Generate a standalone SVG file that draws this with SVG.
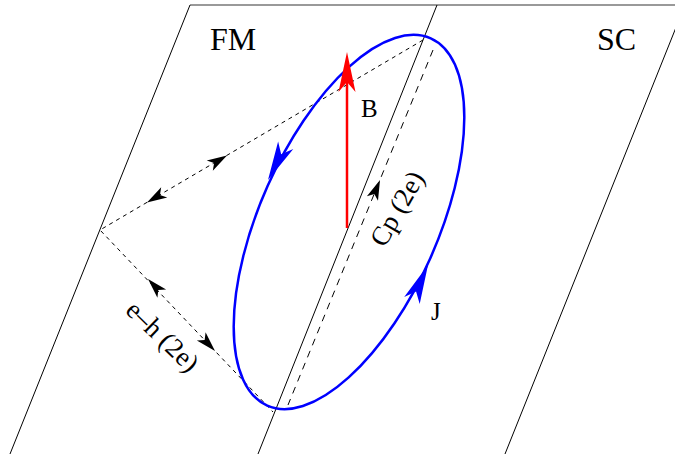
<svg xmlns="http://www.w3.org/2000/svg" xmlns:xlink="http://www.w3.org/1999/xlink" width="675" height="454" viewBox="0 0 675 454">
<style>
.edge{stroke:#000;stroke-width:1;fill:none}
.top{stroke:#777;stroke-width:1.5;fill:none}
.dash{stroke:#000;stroke-width:1;fill:none;stroke-dasharray:4 4}
.dashL{stroke:#000;stroke-width:1;fill:none;stroke-dasharray:7 6}
.big{font-family:"Liberation Serif","Times New Roman",serif;font-size:32px;fill:#000}
.lbl{font-family:"Liberation Serif","Times New Roman",serif;font-size:25px;fill:#000}
.rot{font-family:"Liberation Serif","Times New Roman",serif;font-size:27px;fill:#000}
</style>
<defs>
<path id="ahk" d="M0,0 L-20,-6 L-15,0 L-20,6 Z" fill="#000"/>
<path id="ahb" d="M0,0 L-39,-8.5 L-29,0 L-39,8.5 Z" fill="#0000ff"/>
<path id="ahr" d="M0,0 L-40,-8.5 L-30,0 L-40,8.5 Z" fill="#ff0000"/>
</defs>
<rect width="675" height="454" fill="#fff"/>
<g id="regions">
<line class="top" x1="190" y1="5" x2="675" y2="5"/>
<line class="edge" x1="190" y1="5" x2="10" y2="454"/>
<line class="edge" x1="437" y1="5" x2="258" y2="454"/>
<line class="edge" x1="685" y1="5" x2="505" y2="454"/>
<text class="big" x="210" y="50">FM</text>
<text class="big" x="597" y="50">SC</text>
</g>
<g id="connectors">
<polyline class="dash" points="423,40 100,230 273,412"/>
<line class="dashL" x1="433" y1="50" x2="288" y2="405"/>
<use xlink:href="#ahk" transform="translate(227,155.5) rotate(-30.5)"/>
<use xlink:href="#ahk" transform="translate(147,202.5) rotate(149.5)"/>
<use xlink:href="#ahk" transform="translate(148,279) rotate(-133.5)"/>
<use xlink:href="#ahk" transform="translate(215,351) rotate(46.5)"/>
<use xlink:href="#ahk" transform="translate(380,180) rotate(-67.8)"/>
</g>
<g id="current-loop">
<ellipse cx="349" cy="222" rx="89" ry="201" transform="rotate(24 349 222)" fill="none" stroke="#0000ff" stroke-width="2.5"/>
<use xlink:href="#ahb" transform="translate(268,180) rotate(117)"/>
<use xlink:href="#ahb" transform="translate(428,265) rotate(-65.7)"/>
<text class="lbl" x="431" y="320">J</text>
</g>
<g id="field-B">
<line x1="347" y1="228" x2="347" y2="80" stroke="#ff0000" stroke-width="2.5"/>
<use xlink:href="#ahr" transform="translate(347,52) rotate(-90)"/>
<text class="lbl" x="361" y="117">B</text>
</g>
<g id="labels">
<text class="rot" text-anchor="middle" transform="translate(398,209) rotate(-60)" y="8">Cp (2e)</text>
<text class="rot" text-anchor="middle" transform="translate(162,337) rotate(44)" y="8">e–h (2e)</text>
</g>
</svg>
